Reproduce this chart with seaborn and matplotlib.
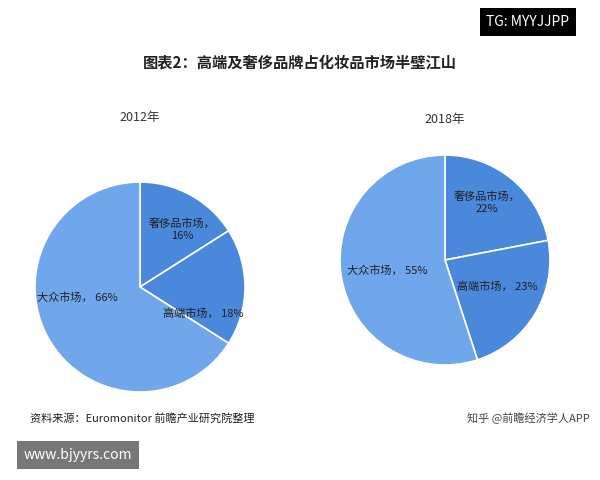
import matplotlib
matplotlib.use("Agg")
import matplotlib.pyplot as plt
import seaborn as sns

sns.set_theme(style="white")
plt.rcParams['font.family'] = ['Noto Sans CJK SC', 'DejaVu Sans']

years = ["2012年", "2018年"]
labels = ["奢侈品市场，", "高端市场，", "大众市场，"]
vals2012 = [16, 18, 66]
vals2018 = [22, 23, 55]
colors = ["#4a88dc", "#4a88dc", "#6fa6ec"]

fig = plt.figure(figsize=(6, 4.8), dpi=100)
fig.patch.set_facecolor("white")
W, H = 600, 480

def draw(vals, cx, cy, r, year, ylab, pos):
    ax = fig.add_axes([(cx - r) / W, 1 - (cy + r) / H, 2 * r / W, 2 * r / H])
    ax.pie(vals, colors=colors, startangle=90, counterclock=False,
           wedgeprops=dict(edgecolor="white", linewidth=1.2))
    ax.set_aspect("equal")
    ax.set_xlim(-1, 1); ax.set_ylim(-1, 1)
    fig.text(cx / W, 1 - ylab / H, year, ha="center", va="center", fontsize=9, color="#333333")
    for (x, y, t) in pos:
        ax.text(x, y, t, ha="center", va="center", fontsize=8, color="#222222")

draw(vals2012, 140, 287, 105, years[0], 117,
     [(0.4, 0.55, labels[0] + "\n" + f"{vals2012[0]}%"),
      (0.6, -0.25, labels[1] + f" {vals2012[1]}%"),
      (-0.6, -0.1, labels[2] + f" {vals2012[2]}%")])
draw(vals2018, 445, 260, 105, years[1], 120,
     [(0.4, 0.55, labels[0] + "\n" + f"{vals2018[0]}%"),
      (0.5, -0.25, labels[1] + f" {vals2018[1]}%"),
      (-0.55, -0.1, labels[2] + f" {vals2018[2]}%")])

fig.text(300 / W, 1 - 62 / H, "图表2：高端及奢侈品牌占化妆品市场半壁江山",
         ha="center", va="center", fontsize=11, fontweight="bold", color="#222222")
fig.text(30 / W, 1 - 418 / H, "资料来源：Euromonitor 前瞻产业研究院整理",
         ha="left", va="center", fontsize=8, color="#222222")
fig.text(590 / W, 1 - 418 / H, "知乎 @前瞻经济学人APP",
         ha="right", va="center", fontsize=8, color="#444444")
fig.text(528 / W, 1 - 22 / H, "TG: MYYJJPP", ha="center", va="center",
         fontsize=10, color="white",
         bbox=dict(boxstyle="square,pad=0.5", facecolor="black", edgecolor="none"))
fig.text(78 / W, 1 - 455 / H, "www.bjyyrs.com", ha="center", va="center",
         fontsize=10, color="white",
         bbox=dict(boxstyle="square,pad=0.5", facecolor="#777777", edgecolor="none"))

fig.savefig("out.png", dpi=100)
